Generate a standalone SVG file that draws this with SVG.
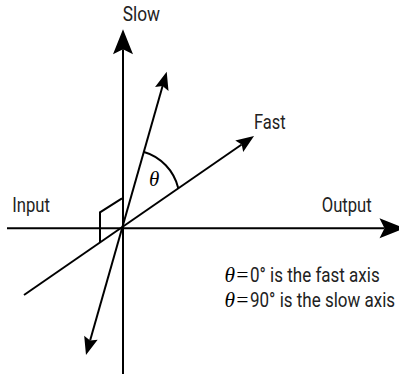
<svg xmlns="http://www.w3.org/2000/svg" width="399" height="374" viewBox="0 0 399 374">
<style>
.ln{stroke:#000;stroke-width:2;fill:none}
.lbl{font-family:Roboto,"Liberation Sans",sans-serif;font-size:21px;fill:#222}
.th{font-family:"Liberation Serif",serif;font-style:italic;font-size:21px;fill:#000}
</style>
<defs>
<marker id="big" markerUnits="userSpaceOnUse" orient="auto" overflow="visible" markerWidth="30" markerHeight="24" refX="0" refY="0">
<path d="M20,0 L-5,-10 L0,0 L-5,10 Z" fill="#000"/>
</marker>
<marker id="small" markerUnits="userSpaceOnUse" orient="auto-start-reverse" overflow="visible" markerWidth="24" markerHeight="18" refX="0" refY="0">
<path d="M15,0 L-3,-7 L0,0 L-3,7 Z" fill="#000"/>
</marker>
</defs>
<g id="connectors">
<line class="ln" x1="123" y1="374" x2="123" y2="49.3" marker-end="url(#big)"/>
<line class="ln" x1="7" y1="228.3" x2="384.5" y2="228.3" marker-end="url(#big)"/>
<line class="ln" x1="24" y1="295" x2="241.7" y2="144.5" marker-end="url(#small)"/>
<line class="ln" x1="90.1" y1="340.6" x2="162.6" y2="86.1" marker-start="url(#small)" marker-end="url(#small)"/>
<polyline class="ln" points="100,243 100,212.3 122,198.3"/>
<path class="ln" d="M143.3,151.7 A50,50 0 0,1 178.3,188.3"/>
</g>
<g id="slow"><text class="lbl" x="122.7" y="21" textLength="37.3" lengthAdjust="spacingAndGlyphs">Slow</text></g>
<g id="fast"><text class="lbl" x="254" y="129" textLength="31.7" lengthAdjust="spacingAndGlyphs">Fast</text></g>
<g id="input"><text class="lbl" x="12.3" y="211.7" textLength="37.7" lengthAdjust="spacingAndGlyphs">Input</text></g>
<g id="output"><text class="lbl" x="321.7" y="211.7" textLength="50" lengthAdjust="spacingAndGlyphs">Output</text></g>
<g id="theta"><text class="th" x="149" y="185.5">θ</text></g>
<g id="note">
<text class="th" x="224.5" y="281.7" textLength="25" lengthAdjust="spacingAndGlyphs">θ=</text>
<text class="lbl" transform="translate(250,281.7) scale(0.81,1)" x="0" y="0">0° is the fast axis</text>
<text class="th" x="224.5" y="306.7" textLength="25" lengthAdjust="spacingAndGlyphs">θ=</text>
<text class="lbl" transform="translate(250,306.7) scale(0.81,1)" x="0" y="0">90° is the slow axis</text>
</g>
</svg>
